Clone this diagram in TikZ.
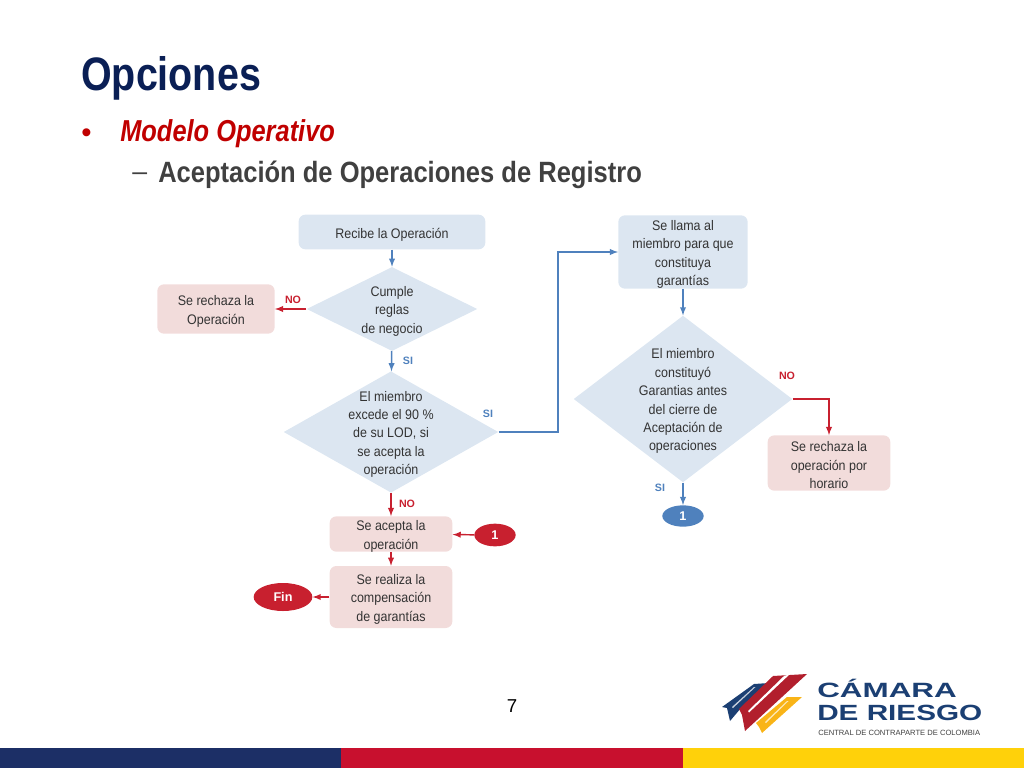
\documentclass[tikz,border=0pt]{standalone}
\usepackage{fontspec}
\setmainfont{Liberation Sans}
\newfontfamily\narrowfont[FakeStretch=0.84]{Liberation Sans}
\newfontfamily\subfont[FakeStretch=0.87]{Liberation Sans}
\newfontfamily\flowfont[FakeStretch=0.9]{Liberation Sans}
\newfontfamily\logofont[FakeStretch=1.52]{Liberation Sans}
\newfontfamily\logofontb[FakeStretch=1.35]{Liberation Sans}
\usetikzlibrary{arrows, shapes.geometric, positioning}
\definecolor{bluefill}{HTML}{DCE6F1}
\definecolor{redfill}{HTML}{F2DCDB}
\definecolor{blueline}{HTML}{4F81BD}
\definecolor{redline}{HTML}{C8202F}
\definecolor{navy}{HTML}{0A1F55}
\definecolor{headred}{HTML}{C00000}
\definecolor{logoblue}{HTML}{1B3F73}
\definecolor{logored}{HTML}{B21F2D}
\definecolor{logoyellow}{HTML}{F9B417}
\definecolor{barblue}{HTML}{1C2F66}
\definecolor{barred}{HTML}{C8102E}
\definecolor{baryellow}{HTML}{FFD10A}
\tikzset{
  txt/.style={font=\fontsize{10.4pt}{13.8pt}\selectfont\flowfont, text=black!80, align=center, inner sep=0pt, yshift=-1.8pt},
  bluebox/.style={fill=bluefill, rounded corners=5pt, inner sep=0pt},
  redbox/.style={fill=redfill, rounded corners=5pt, inner sep=0pt},
  decision/.style={diamond, fill=bluefill, inner sep=0pt, aspect=1.78},
  tag/.style={font=\fontsize{8pt}{9pt}\selectfont\bfseries, inner sep=0pt},
  blueflow/.style={-latex, blueline, line width=1.1pt},
  redflow/.style={-latex, redline, line width=1.1pt},
  badge/.style={ellipse, inner sep=0pt, text=white, font=\fontsize{9.5pt}{10pt}\selectfont\bfseries}
}
\begin{document}
\begin{tikzpicture}[x=0.75pt, y=-0.75pt]
  \useasboundingbox (0,0) rectangle (1024,768);
  % header
  \node[anchor=west, inner sep=0pt, text=navy, font=\fontsize{35.2pt}{36pt}\selectfont\narrowfont\bfseries] (title) at (81,78) {Opciones};
  \node[anchor=west, inner sep=0pt, text=headred, font=\fontsize{22pt}{22pt}\selectfont] (bullet) at (81,136) {\textbullet};
  \node[anchor=west, inner sep=0pt, text=headred, font=\fontsize{22.7pt}{23pt}\selectfont\narrowfont\bfseries\itshape] (model) at (120,134) {Modelo Operativo};
  \node[anchor=west, inner sep=0pt, text=black!75, font=\fontsize{20pt}{20pt}\selectfont] (dash) at (132,177) {--};
  \node[anchor=west, inner sep=0pt, text=black!75, font=\fontsize{22pt}{22pt}\selectfont\subfont\bfseries] (sub) at (158,175) {Aceptación de Operaciones de Registro};

  % left flow
  \node[bluebox, minimum width=140pt, minimum height=26pt, label={[txt]center:Recibe la Operación}] (recibe) at (392,232) {};
  \node[decision, minimum width=128pt, minimum height=63pt, label={[txt]center:Cumple\\reglas\\de negocio}] (cumple) at (392,309) {};
  \node[redbox, minimum width=88pt, minimum height=37pt, label={[txt]center:Se rechaza la\\Operación}] (rechaza) at (216,309) {};
  \node[decision, minimum width=161pt, minimum height=91pt, label={[txt]center:El miembro\\excede el 90 \%\\de su LOD, si\\se acepta la\\operación}] (excede) at (391,432) {};
  \node[redbox, minimum width=92pt, minimum height=26.5pt, label={[txt]center:Se acepta la\\operación}] (acepta) at (391,534) {};
  \node[redbox, minimum width=92pt, minimum height=46.5pt, label={[txt]center:Se realiza la\\compensación\\de garantías}] (compensa) at (391,597) {};
  \node[badge, fill=redline, minimum width=31pt, minimum height=17pt] (uno) at (495,535) {1};
  \node[badge, fill=redline, minimum width=44pt, minimum height=21pt] (fin) at (283,597) {Fin};

  % right flow
  \node[bluebox, minimum width=97pt, minimum height=55pt, label={[txt]center:Se llama al\\miembro para que\\constituya\\garantías}] (llama) at (683,252) {};
  \node[decision, minimum width=164pt, minimum height=125pt, label={[txt]center:El miembro\\constituyó\\Garantias antes\\del cierre de\\Aceptación de\\operaciones}] (constituyo) at (683,399) {};
  \node[redbox, minimum width=92pt, minimum height=41.5pt, label={[txt]center:Se rechaza la\\operación por\\horario}] (horario) at (829,463) {};
  \node[badge, fill=blueline, minimum width=31pt, minimum height=16pt] (unob) at (683,516) {1};

  % connectors
  \draw[blueflow] (recibe) -- (cumple);
  \draw[redflow] (cumple) -- (rechaza);
  \draw[blueflow] (cumple) -- (excede);
  \draw[redflow] (excede) -- (acepta);
  \draw[redflow] (acepta) -- (compensa);
  \draw[redflow] (uno) -- (acepta);
  \draw[redflow] (compensa) -- (fin);
  \draw[blueflow] (excede.east) -- (558,432) |- (llama.west);
  \draw[blueflow] (llama) -- (constituyo);
  \draw[redflow] (constituyo.east) -| (horario.north);
  \draw[blueflow] (constituyo) -- (unob);

  % tags
  \node[tag, text=redline] (no1) at (293,300) {NO};
  \node[tag, text=blueline] (si1) at (408,361) {SI};
  \node[tag, text=blueline] (si2) at (488,414) {SI};
  \node[tag, text=redline] (no2) at (407,504) {NO};
  \node[tag, text=redline] (no3) at (787,376) {NO};
  \node[tag, text=blueline] (si3) at (660,488) {SI};

  % footer
  \node[inner sep=0pt, text=black, font=\fontsize{14pt}{14pt}\selectfont] (page) at (512,706) {7};
  \fill[barblue] (0,748) rectangle (341,768);
  \fill[barred] (341,748) rectangle (683,768);
  \fill[baryellow] (683,748) rectangle (1024,768);

  % logo
  \fill[logoblue] (722,707) -- (754,684) -- (769,683) -- (741,708) -- (730,721) -- (727,708) -- cycle;
  \fill[logoblue!25] (732,707) -- (754,687) -- (755.5,687) -- (733,708) -- cycle;
  \fill[logored] (739,709) -- (773,676) -- (807,674) -- (745,731) -- (742,715) -- cycle;
  \fill[white] (748,711) -- (784,676) -- (790,674) -- (749,712.5) -- cycle;
  \fill[logoyellow] (756,723) -- (787,697) -- (802,697) -- (762,733) -- (759,727) -- cycle;
  \fill[logoyellow!30] (765,722) -- (787,701) -- (788.5,701) -- (766,723) -- cycle;
  \node[anchor=west, inner sep=0pt, text=logoblue, font=\fontsize{15.5pt}{16pt}\selectfont\logofont\bfseries] (camara) at (817,688) {CÁMARA};
  \node[anchor=west, inner sep=0pt, text=logoblue, font=\fontsize{16.5pt}{17pt}\selectfont\logofontb\bfseries] (riesgo) at (817,713) {DE RIESGO};
  \node[anchor=west, inner sep=0pt, text=black!75, font=\fontsize{5.7pt}{6pt}\selectfont] (central) at (818,733) {CENTRAL DE CONTRAPARTE DE COLOMBIA};
\end{tikzpicture}
\end{document}
